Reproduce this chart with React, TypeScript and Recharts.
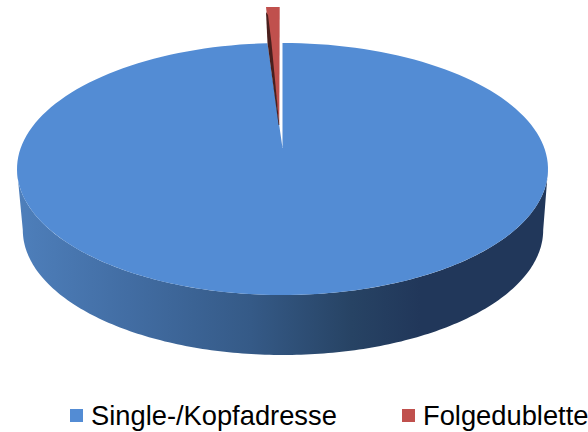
import React from "react";
import { PieChart, Pie, Legend } from "recharts";

const names = ["Single-/Kopfadresse", "Folgedublette"];
const values = [99.1, 0.9];
const colors = ["#538cd4", "#c0504d"];
const data = names.map((name, i) => ({ name, value: values[i], fill: colors[i] }));

const RAD = Math.PI / 180;
const SQUASH = 0.4746;
const CY_SHIFT = 21;
const DEPTH = 61;

function pt(cx: number, cy: number, rx: number, ry: number, a: number) {
  return [cx + rx * Math.cos(a * RAD), cy - ry * Math.sin(a * RAD)];
}

function arcPts(cx: number, cy: number, rx: number, ry: number, a0: number, a1: number) {
  const n = 180;
  const out: string[] = [];
  for (let i = 0; i <= n; i++) {
    const a = a0 + ((a1 - a0) * i) / n;
    const [x, y] = pt(cx, cy, rx, ry, a);
    out.push(`${x.toFixed(2)},${y.toFixed(2)}`);
  }
  return out;
}

function Slice(props: any) {
  const { cx, cy, outerRadius, startAngle, endAngle, payload } = props;
  const isMain = payload.name === names[0];
  const rx = outerRadius;
  const ry = outerRadius * SQUASH;
  if (isMain) {
    const apexY = cy - CY_SHIFT;
    const top = arcPts(cx, cy, rx, ry, startAngle, endAngle);
    const lowerRx = rx * 0.98;
    const wallTop = arcPts(cx, cy, rx, ry, 180, 360);
    const wallBot = arcPts(cx + 0.5, cy + DEPTH, lowerRx, ry - 1, 360, 180);
    return (
      <g>
        <defs>
          <linearGradient id="wall" x1="0" y1="0" x2="1" y2="0">
            <stop offset="0" stopColor="#4e7fbb" />
            <stop offset="0.21" stopColor="#426da3" />
            <stop offset="0.44" stopColor="#355a87" />
            <stop offset="0.63" stopColor="#274364" />
            <stop offset="0.76" stopColor="#21375a" />
            <stop offset="1" stopColor="#21375a" />
          </linearGradient>
        </defs>
        <polygon points={[...wallTop, ...wallBot].join(" ")} fill="url(#wall)" />
        <polygon points={[`${cx},${apexY}`, ...top].join(" ")} fill={payload.fill} />
      </g>
    );
  }
  // the small slice is pulled out of the pie, straight upward
  const liftY = -36;
  const [x0] = pt(cx, cy, rx, ry, startAngle);
  const [x1] = pt(cx, cy, rx, ry, endAngle);
  const apexX = cx - 3.2;
  const apexY = cy - CY_SHIFT - 23;
  const topY = cy - ry + liftY;
  return (
    <g>
      <polygon
        points={`${x0 - 1.5},${topY} ${x1 - 2.8},${topY} ${apexX},${apexY}`}
        fill={payload.fill}
      />
      <polygon
        points={`${x0 - 1.5},${topY + 5} ${x0},${cy - ry} ${apexX - 0.7},${apexY} ${apexX},${apexY} ${x0 + 4},${cy - ry} ${x0 + 0.5},${topY + 8}`}
        fill="#4a1f1d"
      />
    </g>
  );
}

function LegendBody({ payload }: any) {
  const lefts = [70, 402];
  return (
    <div style={{ position: "relative", height: 32 }}>
      {(payload || []).map((p: any, i: number) => (
        <React.Fragment key={p.value}>
          <span
            style={{
              position: "absolute",
              left: lefts[i],
              top: 9,
              width: 13,
              height: 13,
              background: colors[i],
            }}
          />
          <span
            style={{
              position: "absolute",
              left: lefts[i] + 21,
              top: 0,
              fontFamily: "'Liberation Sans', Arial, sans-serif",
              fontSize: 27.3,
              lineHeight: "32px",
              color: "#000",
              whiteSpace: "nowrap",
            }}
          >
            {p.value}
          </span>
        </React.Fragment>
      ))}
    </div>
  );
}

export default function App() {
  return (
    <div style={{ position: "absolute", left: 0, top: 0, width: 588, height: 432, overflow: "hidden" }}>
      <PieChart width={588} height={432} margin={{ top: 0, right: 0, bottom: 0, left: 0 }}>
        <Pie
          data={data}
          dataKey="value"
          nameKey="name"
          cx={282.5}
          cy={169}
          outerRadius={265.5}
          startAngle={90}
          endAngle={-270}
          stroke="none"
          isAnimationActive={false}
          shape={Slice}
          activeShape={Slice}
          inactiveShape={Slice}
        />
        <Legend
          itemSorter={null}
          content={<LegendBody />}
          wrapperStyle={{ position: "absolute", left: 0, top: 400, width: 588, height: 32 }}
        />
      </PieChart>
    </div>
  );
}
